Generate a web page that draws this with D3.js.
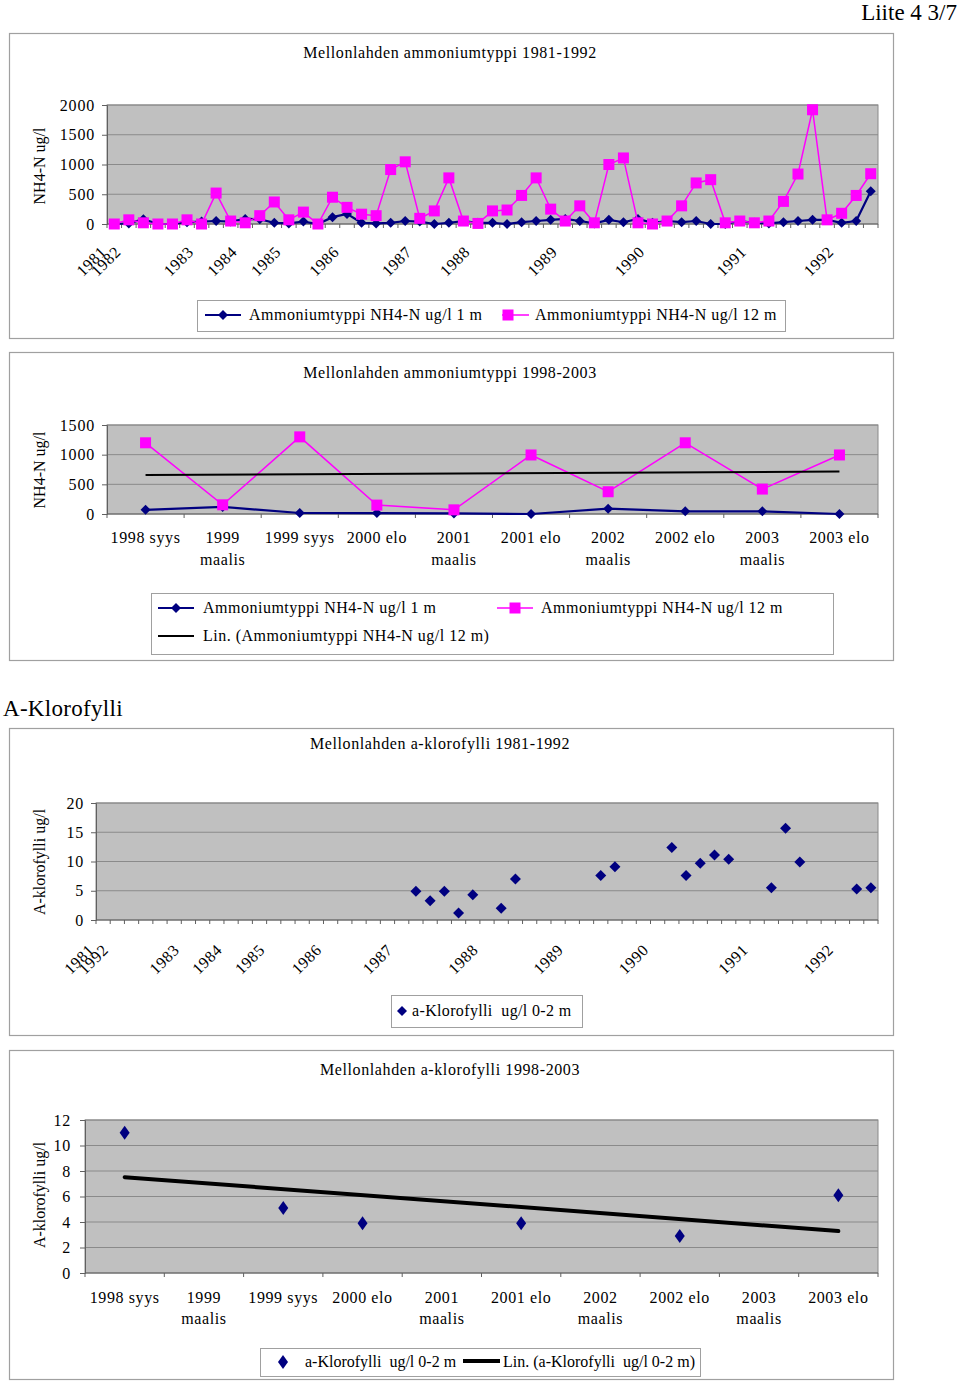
<!DOCTYPE html>
<html><head><meta charset="utf-8">
<script src="https://cdn.jsdelivr.net/npm/d3@7"></script>
<style>body{margin:0;background:#fff;} svg{display:block;}</style>
</head><body><svg id="c" width="960" height="1381"></svg>
<script>
// ---------------- DATA ----------------
// Chart 1: ammonium 1981-1992 (53 sampling occasions)
const nh4_1m_a = [0,10,80,0,0,30,40,50,40,85,80,20,10,40,0,115,170,20,10,20,50,40,0,20,50,20,
                  20,0,30,50,70,85,50,10,70,30,85,20,50,30,50,0,0,50,20,10,30,50,70,70,20,50,550];
const nh4_12m_a = [0,70,20,0,0,70,0,520,50,20,140,370,70,200,0,450,280,165,140,915,1045,95,220,775,50,10,
                   220,235,480,775,250,50,305,20,1000,1110,20,0,50,305,690,745,20,50,20,50,380,840,1920,70,180,480,845];
const yearTickIdx1 = [0,1,6,9,12,16,21,25,31,37,44,50];
const yearTickLbl1 = ["1981","1982","1983","1984","1985","1986","1987","1988","1989","1990","1991","1992"];
const nh4Ticks1 = [0,500,1000,1500,2000];

// Chart 2: ammonium 1998-2003
const periods = ["1998 syys","1999 maalis","1999 syys","2000 elo","2001 maalis","2001 elo","2002 maalis","2002 elo","2003 maalis","2003 elo"];
const nh4_1m_b = [70,120,17,15,10,0,90,45,45,0];
const nh4_12m_b = [1200,155,1300,150,70,995,375,1200,420,995];
const nh4Ticks2 = [0,500,1000,1500];

// Chart 3: chlorophyll 1981-1992 (55 categories)
const chlCount1 = 55;
const chlIdx1 = [22,23,24,25,26,28,29,35,36,40,41,42,43,44,47,48,49,53,54];
const chlVal1 = [4.9,3.3,4.9,1.2,4.3,2.0,7.0,7.6,9.1,12.4,7.6,9.7,11.1,10.4,5.5,15.7,9.9,5.3,5.5];
const yearTickIdx3 = [0,1,6,9,12,16,21,27,33,39,46,52];
const yearTickLbl3 = ["1981","1992","1983","1984","1985","1986","1987","1988","1989","1990","1991","1992"];
const chlTicks1 = [0,5,10,15,20];

// Chart 4: chlorophyll 1998-2003
const chlIdx2 = [0,2,3,5,7,9];
const chlVal2 = [11.0,5.1,3.9,3.9,2.9,6.1];
const chlTicks2 = [0,2,4,6,8,10,12];

// ---------------- STYLE ----------------
const FONT = "'Liberation Serif','Times New Roman',serif";
const FRAME = "#a0a0a0", PLOT = "#c0c0c0", GRID = "#8a8a8a", AXIS = "#606060";
const NAVY = "#000080", PINK = "#ff00ff";
const svg = d3.select("#c").attr("font-family", FONT);

function text(x, y, s, size, anchor, extra) {
  const t = svg.append("text").attr("x", x).attr("y", y).attr("font-size", size)
    .attr("text-anchor", anchor || "start").attr("fill", "#000").style("white-space", "pre").text(s);
  if (extra) extra(t);
  return t;
}
const ls = v => t => t.attr("letter-spacing", v);
function frame(y0, y1) {
  svg.append("rect").attr("x", 9.5).attr("y", y0 + 0.5).attr("width", 884).attr("height", y1 - y0)
    .attr("fill", "#fff").attr("stroke", FRAME).attr("stroke-width", 1.2);
}
function diamond(rx, ry) { return `M0,${-ry}L${rx},0L0,${ry}L${-rx},0Z`; }

function linReg(xs, ys) {
  const mx = d3.mean(xs), my = d3.mean(ys);
  let sxy = 0, sxx = 0;
  xs.forEach((x, i) => { sxy += (x - mx) * (ys[i] - my); sxx += (x - mx) * (x - mx); });
  const b = sxy / sxx; return { a: my - b * mx, b };
}

function catPlot(cfg) {
  const g = svg.append("g");
  const x = d3.scaleBand().domain(d3.range(cfg.n)).range([cfg.x0, cfg.x1]).padding(0);
  const y = d3.scaleLinear().domain([0, cfg.ymax]).range([cfg.yBot, cfg.yTop]);
  g.append("rect").attr("x", cfg.x0).attr("y", cfg.yTop).attr("width", cfg.x1 - cfg.x0)
    .attr("height", cfg.yBot - cfg.yTop).attr("fill", PLOT).attr("stroke", GRID);
  g.selectAll(null).data(cfg.ticks.filter(t => t > 0)).join("line")
    .attr("x1", cfg.x0).attr("x2", cfg.x1).attr("y1", d => y(d)).attr("y2", d => y(d))
    .attr("stroke", GRID).attr("stroke-width", 1);
  const ya = d3.axisLeft(y).tickValues(cfg.ticks).tickSize(5).tickPadding(cfg.pad || 7).tickFormat(d3.format("d"));
  g.append("g").attr("transform", `translate(${cfg.x0},0)`).call(ya)
    .attr("font-family", FONT).attr("font-size", 16)
    .call(a => { a.select(".domain").attr("stroke", AXIS); a.selectAll("line").attr("stroke", AXIS);
                 a.selectAll("text").attr("fill", "#000").attr("letter-spacing", 0.8); });
  g.append("line").attr("x1", cfg.x0).attr("x2", cfg.x1).attr("y1", cfg.yBot).attr("y2", cfg.yBot).attr("stroke", AXIS);
  g.selectAll(null).data(d3.range(cfg.n + 1)).join("line")
    .attr("x1", i => i < cfg.n ? x(i) : cfg.x1).attr("x2", i => i < cfg.n ? x(i) : cfg.x1)
    .attr("y1", cfg.yBot).attr("y2", cfg.yBot + 4).attr("stroke", AXIS);
  text(cfg.ylx, cfg.yly, cfg.ylabel, 16, "middle", t => t.attr("transform", `rotate(-90,${cfg.ylx},${cfg.yly})`));
  const cx = i => x(i) + x.bandwidth() / 2;
  return { x, y, cx };
}

function rotatedYears(p, idx, lbl, yy, dx) {
  svg.selectAll(null).data(idx).join("text")
    .attr("transform", d => `translate(${p.cx(d) + dx},${yy}) rotate(-45)`)
    .attr("text-anchor", "end").attr("font-size", 16).attr("letter-spacing", 0.6)
    .text((d, k) => lbl[k]);
}
function periodLabels(p, y1, y2) {
  periods.forEach((s, i) => {
    const parts = s.split(" ");
    if (parts[1] === "maalis") {
      text(p.cx(i), y1, parts[0], 16, "middle", ls(0.6));
      text(p.cx(i), y2, parts[1], 16, "middle", ls(0.6));
    } else {
      text(p.cx(i), y1, s, 16, "middle", ls(0.6));
    }
  });
}
function series(p, vals, color, lw, marker) {
  const idx = d3.range(vals.length);
  svg.append("path").datum(idx)
    .attr("d", d3.line().x(i => p.cx(i)).y(i => p.y(vals[i])))
    .attr("fill", "none").attr("stroke", color).attr("stroke-width", lw);
  markers(p, idx, vals, color, marker);
}
function markers(p, idx, vals, color, marker) {
  const g = svg.append("g");
  if (marker === "square") {
    g.selectAll(null).data(idx).join("rect")
      .attr("x", d => p.cx(d) - 5.5).attr("y", (d, k) => p.y(vals[k]) - 5.5)
      .attr("width", 11).attr("height", 11).attr("fill", color);
  } else {
    const [rx, ry] = marker;
    g.selectAll(null).data(idx).join("path")
      .attr("transform", (d, k) => `translate(${p.cx(d)},${p.y(vals[k])})`)
      .attr("d", diamond(rx, ry)).attr("fill", color);
  }
}
function legendBox(x0, y0, x1, y1) {
  svg.append("rect").attr("x", x0 + .5).attr("y", y0 + .5).attr("width", x1 - x0).attr("height", y1 - y0)
    .attr("fill", "#fff").attr("stroke", "#a0a0a0");
}
function legLine(x0, x1, y, color, lw) {
  svg.append("line").attr("x1", x0).attr("x2", x1).attr("y1", y).attr("y2", y).attr("stroke", color).attr("stroke-width", lw);
}
function legSquare(x, y, color) {
  svg.append("rect").attr("x", x - 5.5).attr("y", y - 5.5).attr("width", 11).attr("height", 11).attr("fill", color);
}
function legDiamond(x, y, rx, ry, color) {
  svg.append("path").attr("transform", `translate(${x},${y})`).attr("d", diamond(rx, ry)).attr("fill", color);
}

// ---------------- HEADER ----------------
text(957, 20, "Liite 4 3/7", 23, "end");

// ---------------- CHART 1 ----------------
frame(33, 338);
text(450, 58, "Mellonlahden ammoniumtyppi 1981-1992", 16, "middle", ls(0.6));
const p1 = catPlot({ n: nh4_1m_a.length, x0: 107, x1: 878, yTop: 105, yBot: 224, ymax: 2000, ticks: nh4Ticks1,
  ylabel: "NH4-N ug/l", ylx: 45, yly: 166 });
rotatedYears(p1, yearTickIdx1, yearTickLbl1, 253, -7);
series(p1, nh4_1m_a, NAVY, 2.2, [5, 5]);
series(p1, nh4_12m_a, PINK, 1.5, "square");
legendBox(197, 300, 785, 331);
legLine(205, 241, 315, NAVY, 2); legDiamond(223, 315, 5, 5, NAVY);
text(249, 320, "Ammoniumtyppi NH4-N ug/l 1 m", 16, "start", ls(0.5));
legLine(502, 529, 315, PINK, 1.5); legSquare(508, 315, PINK);
text(535, 320, "Ammoniumtyppi NH4-N ug/l 12 m", 16, "start", ls(0.5));

// ---------------- CHART 2 ----------------
frame(352, 660);
text(450, 378, "Mellonlahden ammoniumtyppi 1998-2003", 16, "middle", ls(0.6));
const p2 = catPlot({ n: periods.length, x0: 107, x1: 878, yTop: 425, yBot: 514, ymax: 1500, ticks: nh4Ticks2,
  ylabel: "NH4-N ug/l", ylx: 45, yly: 470 });
periodLabels(p2, 543, 565);
series(p2, nh4_1m_b, NAVY, 2.2, [5, 5]);
series(p2, nh4_12m_b, PINK, 1.5, "square");
{
  const xs = d3.range(nh4_12m_b.length), r = linReg(xs, nh4_12m_b);
  const ends = [0, xs.length - 1];
  svg.append("path").datum(ends)
    .attr("d", d3.line().x(i => p2.cx(i)).y(i => p2.y(r.a + r.b * i)))
    .attr("stroke", "#000").attr("stroke-width", 2).attr("fill", "none");
}
legendBox(151, 593, 833, 654);
legLine(158, 194, 608, NAVY, 2); legDiamond(176, 608, 5, 5, NAVY);
text(203, 613, "Ammoniumtyppi NH4-N ug/l 1 m", 16, "start", ls(0.5));
legLine(497, 533, 608, PINK, 1.5); legSquare(515, 608, PINK);
text(541, 613, "Ammoniumtyppi NH4-N ug/l 12 m", 16, "start", ls(0.5));
legLine(158, 194, 636, "#000", 2);
text(203, 641, "Lin. (Ammoniumtyppi NH4-N ug/l 12 m)", 16, "start", ls(0.5));

// ---------------- SECTION HEADING ----------------
text(3, 716, "A-Klorofylli", 23, "start", ls(0.3));

// ---------------- CHART 3 ----------------
frame(728, 1035);
text(440, 749, "Mellonlahden a-klorofylli 1981-1992", 16, "middle", ls(0.6));
const p3 = catPlot({ n: chlCount1, x0: 96, x1: 878, yTop: 803, yBot: 920, ymax: 20, ticks: chlTicks1,
  ylabel: "A-klorofylli ug/l", ylx: 45, yly: 862 });
rotatedYears(p3, yearTickIdx3, yearTickLbl3, 951, -8);
markers(p3, chlIdx1, chlVal1, NAVY, [5.5, 5.5]);
legendBox(391, 995, 582, 1027);
legDiamond(402, 1011, 5, 5, NAVY);
text(412, 1016, "a-Klorofylli  ug/l 0-2 m", 16, "start", ls(0.35));

// ---------------- CHART 4 ----------------
frame(1050, 1379);
text(450, 1075, "Mellonlahden a-klorofylli 1998-2003", 16, "middle", ls(0.6));
const p4 = catPlot({ n: periods.length, x0: 85, x1: 878, yTop: 1120, yBot: 1273, ymax: 12, ticks: chlTicks2,
  ylabel: "A-klorofylli ug/l", ylx: 45, yly: 1195, pad: 9 });
periodLabels(p4, 1303, 1324);
{
  const r = linReg(chlIdx2, chlVal2);
  const ends = [0, periods.length - 1];
  svg.append("path").datum(ends)
    .attr("d", d3.line().x(i => p4.cx(i)).y(i => p4.y(r.a + r.b * i)))
    .attr("stroke", "#000").attr("stroke-width", 4).attr("fill", "none").attr("stroke-linecap", "round");
}
markers(p4, chlIdx2, chlVal2, NAVY, [5, 7]);
legendBox(260, 1348, 700, 1376);
legDiamond(283, 1362, 5, 7, NAVY);
text(305, 1367, "a-Klorofylli  ug/l 0-2 m", 16, "start");
legLine(463, 500, 1361, "#000", 4);
text(503, 1367, "Lin. (a-Klorofylli  ug/l 0-2 m)", 16, "start");
</script></body></html>
